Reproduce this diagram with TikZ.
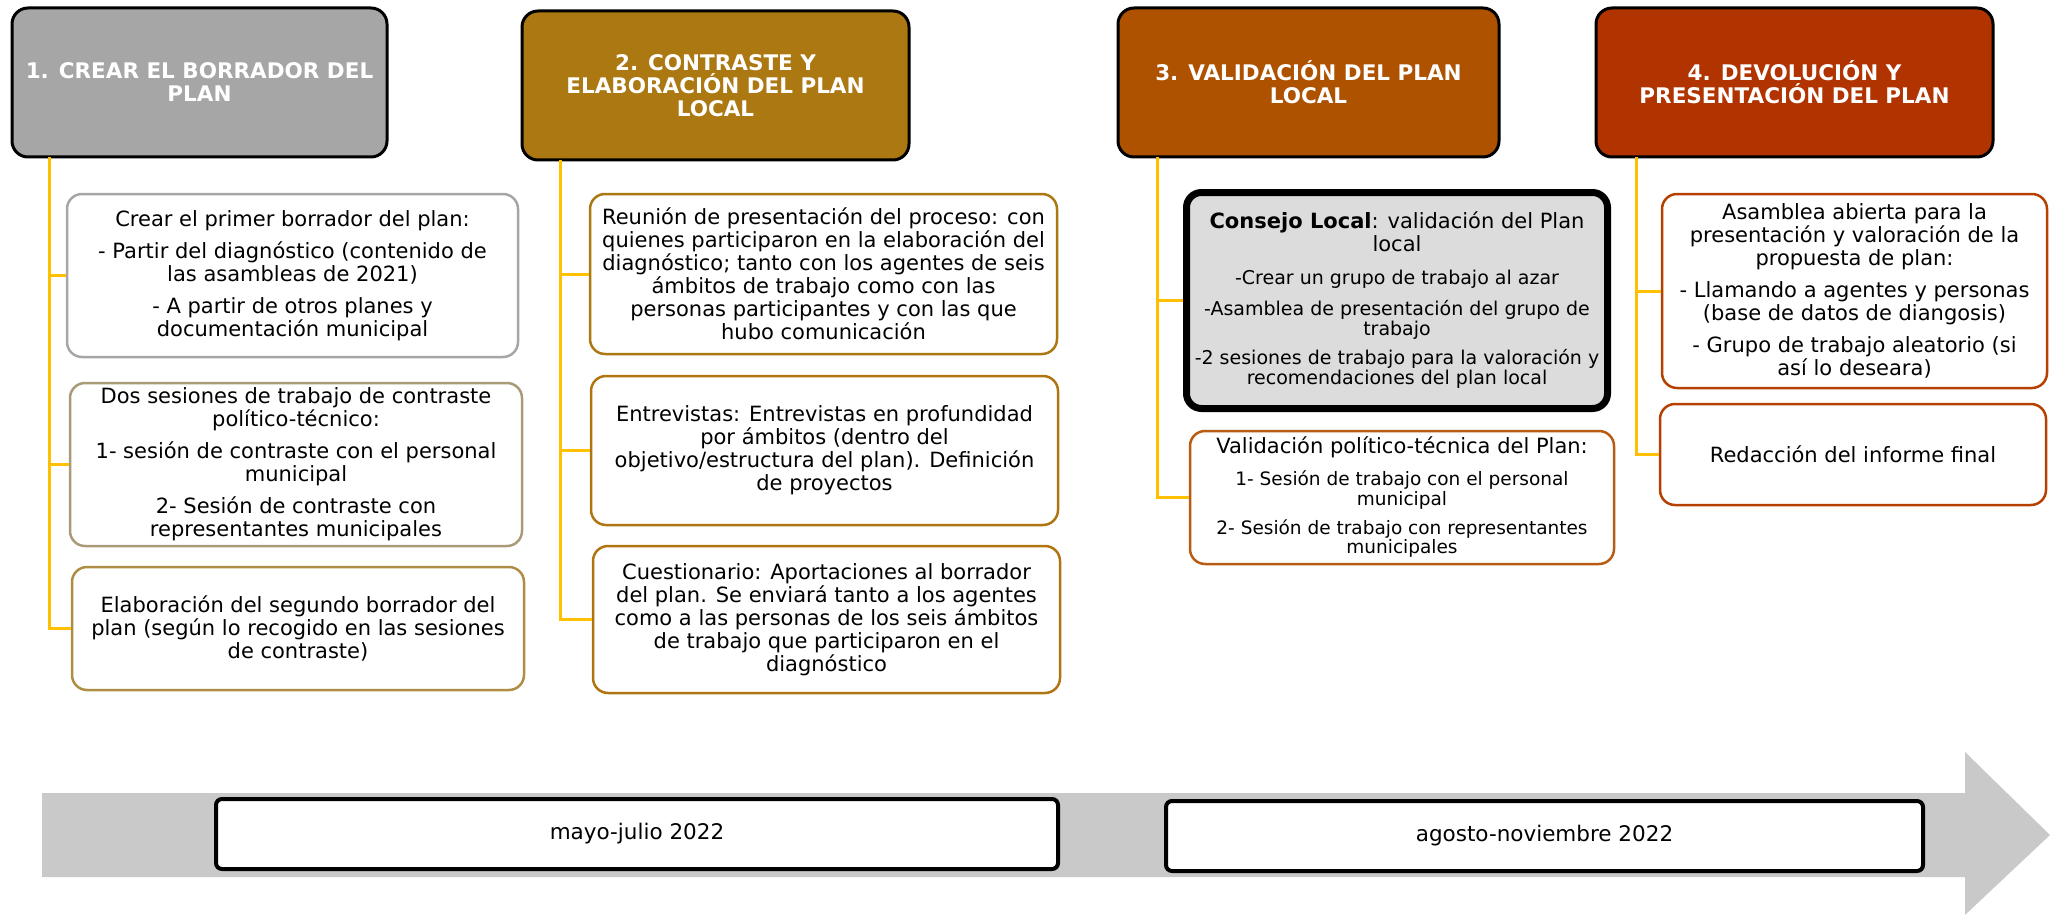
\documentclass[tikz,border=0pt]{standalone}
\usepackage{fontspec}
\setmainfont{DejaVu Sans}
\usepackage{tikz}

\definecolor{gristit}{HTML}{A6A6A6}
\definecolor{ocretit}{HTML}{AB7811}
\definecolor{cobretit}{HTML}{AE5200}
\definecolor{rojotit}{HTML}{B03300}
\definecolor{amarillo}{HTML}{FFC000}
\definecolor{bordetan}{HTML}{A99A78}
\definecolor{bordeoro}{HTML}{B08D44}
\definecolor{bordeocre}{HTML}{B07410}
\definecolor{bordecobre}{HTML}{B85C14}
\definecolor{borderojo}{HTML}{B54000}
\definecolor{grisflecha}{HTML}{C9C9C9}
\definecolor{grisconsejo}{HTML}{DCDCDC}

\newcommand{\sep}{\\[9pt]}
\newcommand{\menor}{\fontsize{19}{21}\selectfont}
\newcommand{\minimo}{\fontsize{18.5}{20}\selectfont}

\tikzset{
  titulo/.style={draw=black, line width=3pt, rounded corners=16pt, text=white,
    align=center, inner sep=0pt, font=\fontsize{21.5}{23}\selectfont\bfseries},
  caja/.style={fill=white, line width=2.5pt, rounded corners=15pt, align=center,
    inner sep=0pt, font=\fontsize{21}{23}\selectfont},
  fecha/.style={draw=black, fill=white, line width=4pt, rounded corners=6pt,
    inner sep=0pt, font=\fontsize{21.5}{23}\selectfont},
  rama/.style={draw=amarillo, line width=3pt},
}

\begin{document}
\begin{tikzpicture}[x=1pt, y=-1pt]
  \useasboundingbox (0,0) rectangle (2054,915);

  % linea de tiempo
  \fill[grisflecha] (42,793) -- (1965,793) -- (1965,752) -- (2050,835)
    -- (1965,915) -- (1965,877) -- (42,877) -- cycle;
  \node[fecha, minimum width=842pt, minimum height=70pt] (t1) at (637,834) {mayo-julio 2022};
  \node[fecha, minimum width=757pt, minimum height=70pt] (t2) at (1544.5,836) {agosto-noviembre 2022};

  % titulos
  \node[titulo, fill=gristit, minimum width=375pt, minimum height=149pt] (h1) at (199.5,82.5)
    {1. CREAR EL BORRADOR DEL\\PLAN};
  \node[titulo, fill=ocretit, minimum width=387pt, minimum height=149pt] (h2) at (715.5,85.5)
    {2. CONTRASTE Y\\ELABORACIÓN DEL PLAN\\LOCAL};
  \node[titulo, fill=cobretit, minimum width=381pt, minimum height=149pt] (h3) at (1308.5,82.5)
    {3. VALIDACIÓN DEL PLAN\\LOCAL};
  \node[titulo, fill=rojotit, minimum width=397pt, minimum height=149pt] (h4) at (1794.5,82.5)
    {4. DEVOLUCIÓN Y\\PRESENTACIÓN DEL PLAN};

  % columna 1
  \node[caja, draw=gristit, minimum width=451pt, minimum height=163pt] (b1a) at (292.5,275.5)
    {Crear el primer borrador del plan:\sep
     - Partir del diagnóstico (contenido de\\las asambleas de 2021)\sep
     - A partir de otros planes y\\documentación municipal};
  \node[caja, draw=bordetan, minimum width=452pt, minimum height=163pt] (b1b) at (296,464.5)
    {Dos sesiones de trabajo de contraste\\político-técnico:\sep
     1- sesión de contraste con el personal\\municipal\sep
     2- Sesión de contraste con\\representantes municipales};
  \node[caja, draw=bordeoro, minimum width=452pt, minimum height=123pt] (b1c) at (298,628.5)
    {Elaboración del segundo borrador del\\plan (según lo recogido en las sesiones\\de contraste)};

  % columna 2
  \node[caja, draw=ocretit, minimum width=467pt, minimum height=160pt] (b2a) at (823.5,274)
    {Reunión de presentación del proceso: con\\quienes participaron en la elaboración del\\
     diagnóstico; tanto con los agentes de seis\\ámbitos de trabajo como con las\\
     personas participantes y con las que\\hubo comunicación};
  \node[caja, draw=bordeocre, minimum width=467pt, minimum height=149pt] (b2b) at (824.5,450.5)
    {Entrevistas: Entrevistas en profundidad\\por ámbitos (dentro del\\
     objetivo/estructura del plan). Definición\\de proyectos};
  \node[caja, draw=bordeocre, minimum width=467pt, minimum height=147pt] (b2c) at (826.5,619.5)
    {Cuestionario: Aportaciones al borrador\\del plan. Se enviará tanto a los agentes\\
     como a las personas de los seis ámbitos\\de trabajo que participaron en el\\diagnóstico};

  % columna 3
  \node[caja, draw=black, fill=grisconsejo, line width=7pt, minimum width=421pt, minimum height=216pt] (b3a) at (1397,300.5)
    {\textbf{Consejo Local}: validación del Plan\\local\\[10pt]
     \menor -Crear un grupo de trabajo al azar\\[8pt]
     \menor -Asamblea de presentación del grupo de\\[-3pt]
     \menor trabajo\\[6pt]
     \menor -2 sesiones de trabajo para la valoración y\\[-3pt]
     \menor recomendaciones del plan local};
  \node[caja, draw=bordecobre, minimum width=424pt, minimum height=133pt] (b3b) at (1402,497.5)
    {Validación político-técnica del Plan:\\[9pt]
     \minimo 1- Sesión de trabajo con el personal\\[-3pt]
     \minimo municipal\\[6pt]
     \minimo 2- Sesión de trabajo con representantes\\[-4pt]
     \minimo municipales};

  % columna 4
  \node[caja, draw=borderojo, minimum width=385pt, minimum height=194pt] (b4a) at (1854.5,291)
    {Asamblea abierta para la\\presentación y valoración de la\\propuesta de plan:\sep
     - Llamando a agentes y personas\\(base de datos de diangosis)\sep
     - Grupo de trabajo aleatorio (si\\así lo deseara)};
  \node[caja, draw=borderojo, minimum width=386pt, minimum height=101pt] (b4b) at (1853,454.5)
    {Redacción del informe final};

  % ramas
  \coordinate (s1) at (49,157);
  \coordinate (s2) at (560,160);
  \coordinate (s3) at (1157,157);
  \coordinate (s4) at (1636,157);
  \draw[rama] (s1) |- (b1a.west);
  \draw[rama] (s1) |- (b1b.west);
  \draw[rama] (s1) |- (b1c.west);
  \draw[rama] (s2) |- (b2a.west);
  \draw[rama] (s2) |- (b2b.west);
  \draw[rama] (s2) |- (b2c.west);
  \draw[rama] (s3) |- (b3a.west);
  \draw[rama] (s3) |- (b3b.west);
  \draw[rama] (s4) |- (b4a.west);
  \draw[rama] (s4) |- (b4b.west);
\end{tikzpicture}
\end{document}
